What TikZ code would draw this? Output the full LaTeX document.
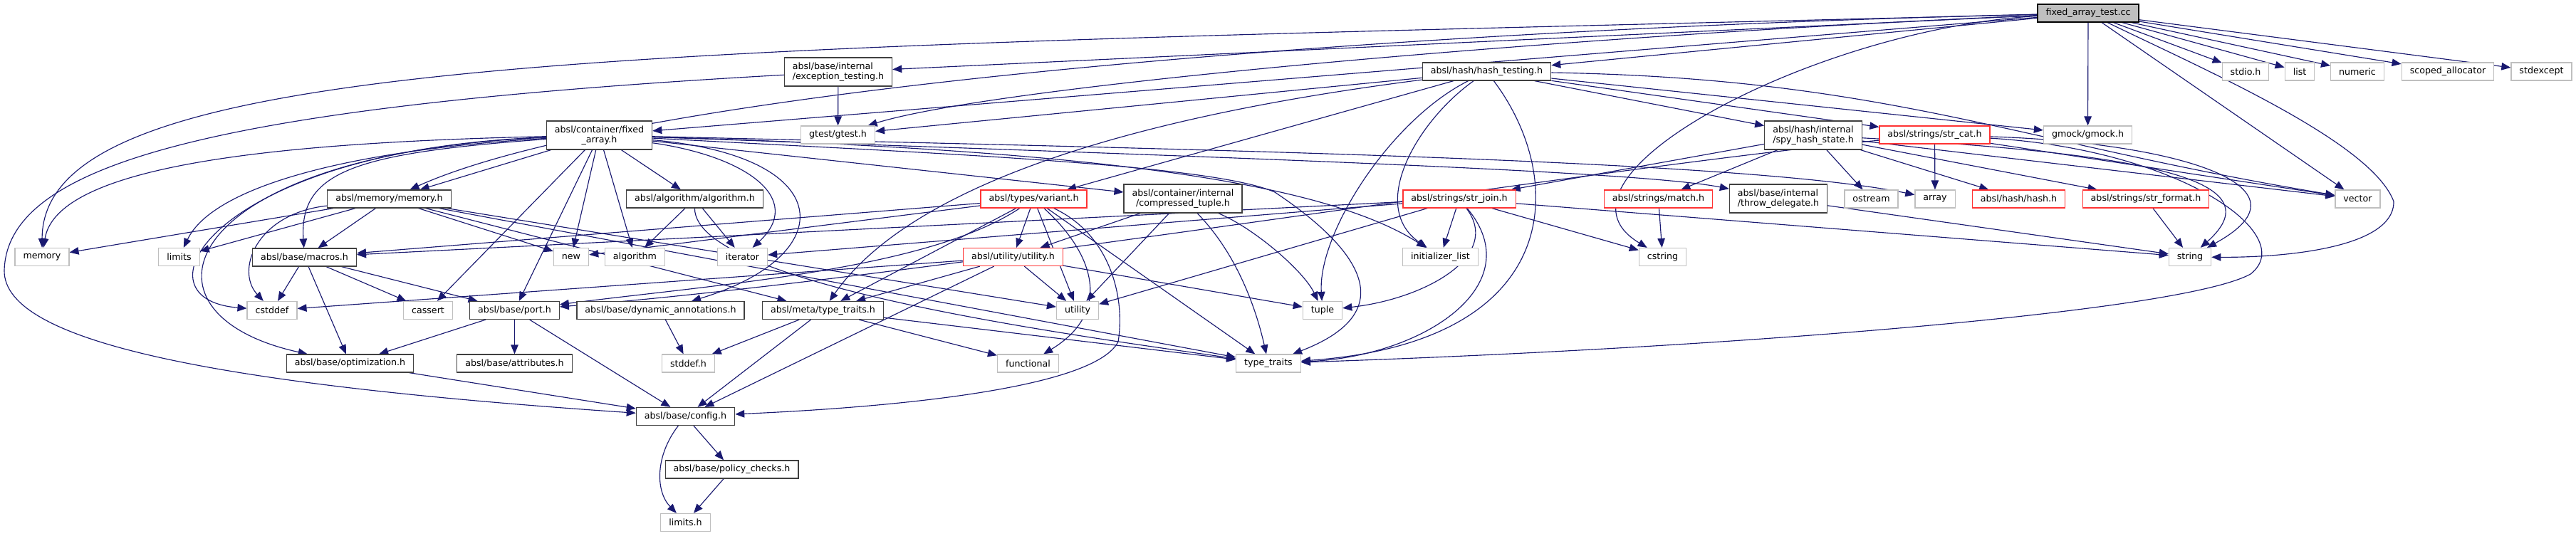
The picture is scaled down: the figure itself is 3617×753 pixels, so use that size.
\documentclass[tikz,border=0pt]{standalone}
\usepackage{fontspec}
\setmainfont{DejaVu Sans}
\usetikzlibrary{arrows.meta, positioning}
\pgfdeclarelayer{edges}
\pgfsetlayers{edges,main}
\definecolor{edgeblue}{HTML}{191970}
\definecolor{sysborder}{HTML}{BFBFBF}
\definecolor{fileborder}{HTML}{404040}
\definecolor{truncborder}{HTML}{FF3333}
\definecolor{rootfill}{HTML}{BFBFBF}

\begin{document}
\begin{tikzpicture}[x=0.02cm, y=-0.02cm, >={Triangle[length=0.26cm, width=0.21cm]},
    file/.style={draw=fileborder, line width=0.7pt, fill=white, inner xsep=0.23cm,
      inner ysep=0pt, minimum height=0.5cm, font=\fontsize{7.2}{8.2}\selectfont, align=center},
    twoline/.style={minimum height=0.8cm},
    sysfile/.style={file, draw=sysborder},
    truncfile/.style={file, draw=truncborder},
    rootfile/.style={file, fill=rootfill, draw=black},
    dep/.style={->, edgeblue, line width=0.65pt}]
        \useasboundingbox (0,0) rectangle (3617,753);

        % rank 0 and 1
        \node[rootfile] (test) at (2932,18.5) {fixed\_array\_test.cc};
        \node[file, twoline, align=left] (exctest) at (1177,101) {absl/base/internal\\/exception\_testing.h};
        \node[file] (hashtest) at (2087.5,100.5) {absl/hash/hash\_testing.h};
        \node[sysfile] (stdio) at (3153,100.5) {stdio.h};
        \node[sysfile] (list) at (3229,100.5) {list};
        \node[sysfile] (numeric) at (3310,100.5) {numeric};
        \node[sysfile] (scoped) at (3437,100.5) {scoped\_allocator};
        \node[sysfile] (stdexcept) at (3568.5,100.5) {stdexcept};

        % rank 2
        \node[file, twoline] (fixedarr) at (841.5,190) {absl/container/fixed\\\_array.h};
        \node[sysfile] (gtest) at (1176.5,189.5) {gtest/gtest.h};
        \node[file, twoline, align=left] (spy) at (2546,190) {absl/hash/internal\\/spy\_hash\_state.h};
        \node[truncfile] (strcat) at (2716.5,189.5) {absl/strings/str\_cat.h};
        \node[sysfile] (gmock) at (2931.5,189.5) {gmock/gmock.h};

        % rank 3
        \node[file] (memoryh) at (546.5,279.5) {absl/memory/memory.h};
        \node[file] (algoh) at (975.5,279.5) {absl/algorithm/algorithm.h};
        \node[truncfile] (variant) at (1451.5,279.5) {absl/types/variant.h};
        \node[file, twoline] (comptuple) at (1661,279) {absl/container/internal\\/compressed\_tuple.h};
        \node[truncfile] (strjoin) at (2049,279.5) {absl/strings/str\_join.h};
        \node[truncfile] (match) at (2328.5,279.5) {absl/strings/match.h};
        \node[file, twoline, align=left] (throwdel) at (2497,279) {absl/base/internal\\/throw\_delegate.h};
        \node[sysfile] (ostream) at (2627.5,279.5) {ostream};
        \node[sysfile] (array) at (2717,279.5) {array};
        \node[truncfile] (hashh) at (2834.5,279.5) {absl/hash/hash.h};
        \node[truncfile] (strformat) at (3013,279.5) {absl/strings/str\_format.h};
        \node[sysfile] (vector) at (3310.5,279.5) {vector};

        % rank 4
        \node[sysfile] (memory) at (59,361) {memory};
        \node[sysfile] (limits) at (251.5,361) {limits};
        \node[file] (macros) at (427.5,361.5) {absl/base/macros.h};
        \node[sysfile] (new) at (802,361) {new};
        \node[sysfile] (algorithm) at (891.5,361) {algorithm};
        \node[sysfile] (iterator) at (1042.5,361) {iterator};
        \node[truncfile] (utilityh) at (1422.5,361) {absl/utility/utility.h};
        \node[sysfile] (initlist) at (2022.5,361) {initializer\_list};
        \node[sysfile] (cstring) at (2334.5,361) {cstring};
        \node[sysfile] (string) at (3075,361) {string};

        % rank 5
        \node[sysfile] (cstddef) at (382,436) {cstddef};
        \node[sysfile] (cassert) at (601,436) {cassert};
        \node[file] (port) at (722.5,436) {absl/base/port.h};
        \node[file] (dynann) at (927.5,436) {absl/base/dynamic\_annotations.h};
        \node[file] (metatt) at (1155.5,436) {absl/meta/type\_traits.h};
        \node[sysfile] (utility) at (1513,436) {utility};
        \node[sysfile] (tuple) at (1857,436) {tuple};

        % lower ranks
        \node[file] (optim) at (491.5,510.5) {absl/base/optimization.h};
        \node[file] (attrib) at (722.5,510.5) {absl/base/attributes.h};
        \node[sysfile] (stddefh) at (966.5,510.5) {stddef.h};
        \node[sysfile] (functional) at (1443.5,510.5) {functional};
        \node[sysfile] (typetraits) at (1781,510.5) {type\_traits};
        \node[file] (config) at (962.5,585) {absl/base/config.h};
        \node[file] (policy) at (1027.5,659.5) {absl/base/policy\_checks.h};
        \node[sysfile] (limitsh) at (962.5,734) {limits.h};

        \begin{pgfonlayer}{edges}
        \foreach \src/\dst in {test/exctest, test/hashtest, test/fixedarr, test/gmock,
            test/stdio, test/list, test/numeric, test/scoped, test/stdexcept, test/vector,
            exctest/gtest, hashtest/gtest, hashtest/gmock, hashtest/spy, hashtest/strcat,
            hashtest/variant, fixedarr/memoryh, fixedarr/algoh, fixedarr/new,
            fixedarr/algorithm, fixedarr/comptuple, fixedarr/cassert,
            fixedarr/port, memoryh/memory, memoryh/limits, memoryh/macros, memoryh/new,
            memoryh/metatt, memoryh/utility, memoryh/typetraits, algoh/algorithm,
            algoh/iterator, spy/ostream, spy/hashh, spy/strformat, spy/match, spy/strjoin,
            spy/vector, strcat/array, strcat/vector, strformat/string, match/cstring,
            strjoin/initlist, strjoin/cstring, strjoin/string, strjoin/iterator,
            strjoin/macros, strjoin/utility, variant/utilityh, variant/new, variant/macros,
            variant/metatt, variant/typetraits, variant/utility, comptuple/utilityh,
            comptuple/utility, utilityh/metatt, utilityh/utility, utilityh/tuple,
            utilityh/cstddef, utilityh/config, throwdel/string, macros/cstddef,
            macros/cassert, macros/port, macros/optim, port/optim, port/attrib, port/config,
            dynann/stddefh, metatt/stddefh, metatt/config, metatt/functional,
            metatt/typetraits, optim/config, config/policy, policy/limitsh} {
          \draw[dep] (\src) -- (\dst);
        }

        % long bent connectors
        \draw[dep] (test) .. controls (900,70) and (60,70) .. (memory);
        \draw[dep] (test) .. controls (2000,40) and (900,120) .. (memoryh);
        \draw[dep] (test) .. controls (2200,50) and (1400,120) .. (gtest);
        \draw[dep] (test) .. controls (3100,100) and (3330,200) .. (3361,283)
          .. controls (3362,350) and (3200,362) .. (string);
        \draw[dep] (test) .. controls (2550,40) and (2150,250) .. (cstring);
        \draw[dep] (exctest) .. controls (300,150) and (10,230) .. (6,380)
          .. controls (5,480) and (300,540) .. (config);
        \draw[dep] (hashtest) .. controls (2650,110) and (2830,200) .. (vector);
        \draw[dep] (hashtest) .. controls (1990,170) and (1920,290) .. (initlist);
        \draw[dep] (hashtest) .. controls (1950,170) and (1850,330) .. (tuple);
        \draw[dep] (hashtest) .. controls (2200,250) and (2200,480) .. (typetraits);
        \draw[dep] (hashtest) .. controls (1700,150) and (1300,230) .. (metatt);
        \draw[dep] (fixedarr) .. controls (400,200) and (80,230) .. (memory);
        \draw[dep] (fixedarr) .. controls (500,210) and (300,260) .. (limits);
        \draw[dep] (fixedarr) .. controls (300,210) and (180,420) .. (cstddef);
        \draw[dep] (fixedarr) .. controls (250,215) and (170,440) .. (optim);
        \draw[dep] (fixedarr) .. controls (500,215) and (420,240) .. (macros);
        \draw[dep] (fixedarr) .. controls (1050,220) and (1130,280) .. (iterator);
        \draw[dep] (fixedarr) .. controls (1700,210) and (2450,225) .. (array);
        \draw[dep] (fixedarr) .. controls (1700,220) and (2300,240) .. (throwdel);
        \draw[dep] (fixedarr) .. controls (1500,210) and (1850,250) .. (initlist);
        \draw[dep] (fixedarr) .. controls (1300,215) and (1700,230) .. (1790,270)
          .. controls (1880,330) and (1990,430) .. (typetraits);
        \draw[dep] (fixedarr) .. controls (1180,220) and (1180,360) .. (dynann);
        \draw[dep] (memoryh) .. controls (360,300) and (330,380) .. (cstddef);
        \draw[dep] (algoh) .. controls (975,400) and (1500,470) .. (typetraits);
        \draw[dep] (variant) .. controls (1560,330) and (1580,420) .. (1570,480)
          .. controls (1540,540) and (1300,570) .. (config);
        \draw[dep] (variant) .. controls (1540,360) and (1560,440) .. (functional);
        \draw[dep] (variant) .. controls (1300,380) and (1000,400) .. (port);
        \draw[dep] (strcat) .. controls (2200,240) and (1300,390) .. (port);
        \draw[dep] (strcat) .. controls (3050,200) and (3260,260) .. (string);
        \draw[dep] (strcat) .. controls (3060,210) and (3230,330) .. (3160,385)
          .. controls (3060,440) and (2400,490) .. (typetraits);
        \draw[dep] (spy) .. controls (3000,215) and (3200,250) .. (string);
        \draw[dep] (comptuple) .. controls (1760,320) and (1830,380) .. (tuple);
        \draw[dep] (comptuple) .. controls (1740,360) and (1765,440) .. (typetraits);
        \draw[dep] (strjoin) .. controls (2110,360) and (2000,420) .. (tuple);
        \draw[dep] (strjoin) .. controls (2150,400) and (2000,500) .. (typetraits);
        \draw[dep] (config) .. controls (920,640) and (920,690) .. (limitsh);
        \end{pgfonlayer}

      \end{tikzpicture}
\end{document}
